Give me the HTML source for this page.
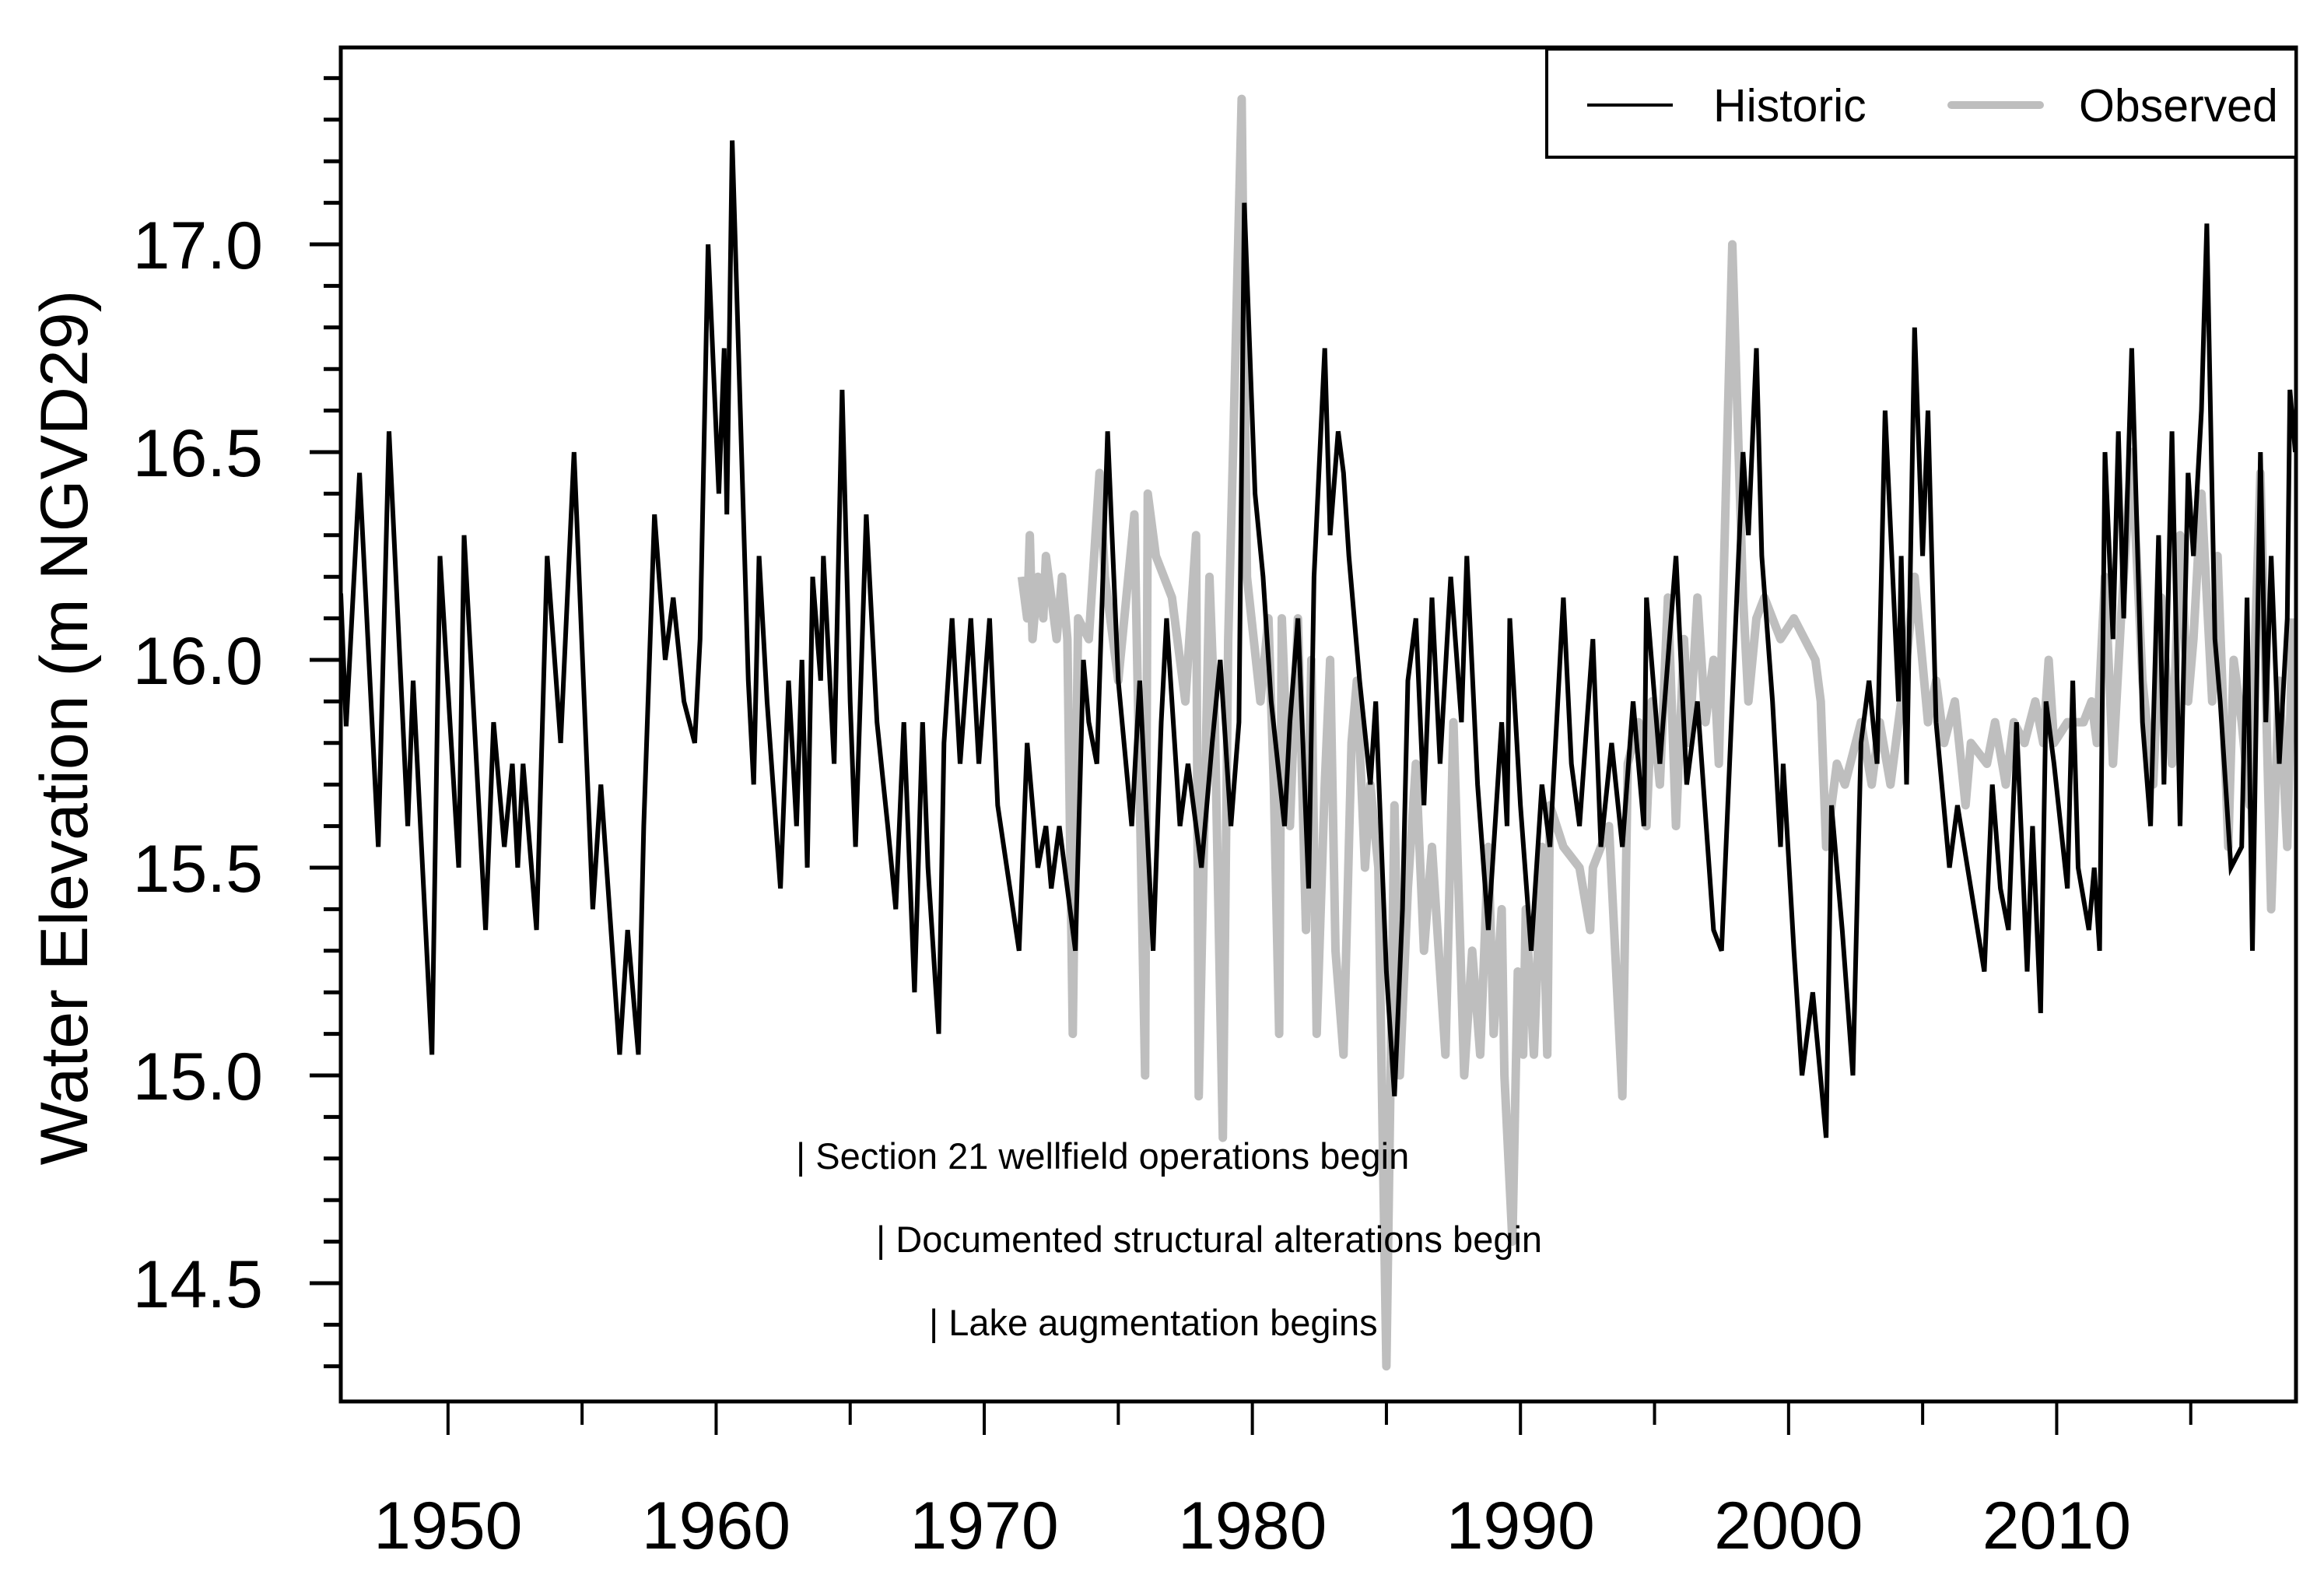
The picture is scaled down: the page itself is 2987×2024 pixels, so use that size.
<!DOCTYPE html>
<html><head><meta charset="utf-8"><style>
body{margin:0;background:#fff}
svg{display:block;font-family:"Liberation Sans",Arial,sans-serif}
</style></head><body>
<svg id="chart" width="2987" height="2024" viewBox="0 0 2987 2024" xmlns="http://www.w3.org/2000/svg">
<defs><clipPath id="plotclip"><rect x="438" y="61" width="2513" height="1740"/></clipPath></defs>
<g id="axes"></g>
<g id="series" clip-path="url(#plotclip)"></g>
<rect x="438" y="61" width="2513" height="1740" fill="none" stroke="#000" stroke-width="5"/>
<text transform="translate(112,935) rotate(-90)" text-anchor="middle" font-size="86">Water Elevation (m NGVD29)</text>
<g>
<rect x="1988" y="63" width="963" height="139" fill="#fff" stroke="#000" stroke-width="4"/>
<line x1="2040" y1="135" x2="2150" y2="135" stroke="#000" stroke-width="4"/>
<text x="2202" y="156" font-size="59">Historic</text>
<line x1="2508" y1="135" x2="2622" y2="135" stroke="#bebebe" stroke-width="10" stroke-linecap="round"/>
<text x="2672" y="156" font-size="59">Observed</text>
</g>
<g font-size="47">
<text x="1023" y="1502">| Section 21 wellfield operations begin</text>
<text x="1126" y="1609">| Documented structural alterations begin</text>
<text x="1194" y="1716">| Lake augmentation begins</text>
</g>
</svg>
<script>
const histYears=[1946.0,1946.2,1946.7,1947.4,1947.8,1948.5,1948.7,1949.4,1949.7,1950.4,1950.6,1951.4,1951.7,1952.1,1952.4,1952.6,1952.8,1953.3,1953.7,1954.2,1954.7,1955.4,1955.7,1956.4,1956.7,1957.1,1957.3,1957.7,1958.1,1958.4,1958.8,1959.2,1959.4,1959.7,1960.1,1960.3,1960.4,1960.6,1960.9,1961.2,1961.4,1961.6,1961.9,1962.4,1962.7,1963.0,1963.2,1963.4,1963.6,1963.9,1964.0,1964.4,1964.7,1965.0,1965.2,1965.6,1966.0,1966.4,1966.7,1967.0,1967.4,1967.7,1967.9,1968.3,1968.5,1968.8,1969.1,1969.5,1969.8,1970.2,1970.5,1971.3,1971.6,1972.0,1972.3,1972.5,1972.8,1973.4,1973.7,1973.9,1974.2,1974.6,1975.0,1975.5,1975.8,1976.3,1976.6,1976.8,1977.3,1977.6,1978.1,1978.5,1978.8,1979.2,1979.5,1979.7,1980.1,1980.4,1980.7,1981.2,1981.4,1981.7,1982.1,1982.3,1982.7,1982.9,1983.2,1983.4,1983.6,1984.0,1984.4,1984.6,1985.0,1985.3,1985.6,1985.8,1986.1,1986.4,1986.7,1987.0,1987.4,1987.8,1988.0,1988.4,1988.8,1989.0,1989.3,1989.5,1989.6,1990.0,1990.4,1990.8,1991.1,1991.6,1991.9,1992.2,1992.7,1993.0,1993.4,1993.8,1994.2,1994.6,1994.7,1995.2,1995.8,1996.2,1996.6,1997.2,1997.5,1997.8,1998.1,1998.3,1998.5,1998.8,1999.0,1999.4,1999.7,1999.8,2000.2,2000.5,2000.9,2001.4,2001.6,2002.0,2002.4,2002.7,2003.0,2003.3,2003.6,2004.1,2004.2,2004.4,2004.7,2005.0,2005.2,2005.5,2006.0,2006.3,2007.3,2007.6,2007.9,2008.2,2008.5,2008.9,2009.1,2009.4,2009.6,2009.9,2010.4,2010.6,2010.8,2011.2,2011.4,2011.6,2011.8,2012.1,2012.3,2012.5,2012.8,2013.2,2013.5,2013.8,2014.0,2014.3,2014.6,2014.9,2015.1,2015.4,2015.6,2015.9,2016.1,2016.5,2016.9,2017.1,2017.3,2017.6,2017.8,2018.0,2018.3,2018.6,2018.7,2018.9];
const histValues=[16.16,15.84,16.45,15.55,16.55,15.6,15.95,15.05,16.25,15.5,16.3,15.35,15.85,15.55,15.75,15.5,15.75,15.35,16.25,15.8,16.5,15.4,15.7,15.05,15.35,15.05,15.6,16.35,16.0,16.15,15.9,15.8,16.05,17.0,16.4,16.75,16.35,17.25,16.6,15.95,15.7,16.25,15.9,15.45,15.95,15.6,16.0,15.5,16.2,15.95,16.25,15.75,16.65,15.9,15.55,16.35,15.85,15.6,15.4,15.85,15.2,15.85,15.5,15.1,15.8,16.1,15.75,16.1,15.75,16.1,15.65,15.3,15.8,15.5,15.6,15.45,15.6,15.3,16.0,15.85,15.75,16.55,15.95,15.6,15.95,15.3,15.85,16.1,15.6,15.75,15.5,15.8,16.0,15.6,15.85,17.1,16.4,16.2,15.9,15.6,15.85,16.1,15.45,16.2,16.75,16.3,16.55,16.45,16.25,15.95,15.7,15.9,15.25,14.95,15.4,15.95,16.1,15.65,16.15,15.75,16.2,15.85,16.25,15.7,15.35,15.55,15.85,15.6,16.1,15.65,15.3,15.7,15.55,16.15,15.75,15.6,16.05,15.55,15.8,15.55,15.9,15.6,16.15,15.75,16.25,15.7,15.9,15.35,15.3,15.75,16.2,16.5,16.3,16.75,16.25,15.9,15.55,15.75,15.3,15.0,15.2,14.85,15.65,15.35,15.0,15.8,15.95,15.75,16.6,15.9,16.25,15.7,16.8,16.25,16.6,15.85,15.5,15.65,15.25,15.7,15.45,15.35,15.85,15.25,15.6,15.15,15.9,15.75,15.45,15.95,15.5,15.35,15.5,15.3,16.5,16.05,16.55,16.1,16.75,15.85,15.6,16.3,15.7,16.55,15.6,16.45,16.25,16.6,17.05,16.05,15.9,15.5,15.55,16.15,15.3,16.5,15.85,16.25,15.75,16.1,16.65,16.5];
const obsYears=[1971.4,1971.6,1971.7,1971.8,1972.0,1972.2,1972.3,1972.7,1972.9,1973.1,1973.3,1973.5,1973.9,1974.3,1974.5,1975.0,1975.6,1976.0,1976.1,1976.4,1977.0,1977.5,1977.9,1978.0,1978.4,1978.6,1978.9,1979.1,1979.3,1979.6,1979.8,1980.3,1980.6,1980.8,1981.0,1981.1,1981.4,1981.7,1982.0,1982.2,1982.4,1982.7,1982.9,1983.1,1983.4,1983.7,1983.9,1984.2,1984.4,1984.7,1985.0,1985.3,1985.5,1985.8,1986.1,1986.4,1986.7,1987.2,1987.5,1987.9,1988.2,1988.5,1988.8,1989.0,1989.3,1989.4,1989.7,1989.9,1990.1,1990.2,1990.5,1990.8,1991.0,1991.1,1991.6,1992.2,1992.6,1992.7,1993.3,1993.8,1994.0,1994.4,1994.7,1994.9,1995.2,1995.5,1995.8,1996.1,1996.3,1996.6,1996.9,1997.2,1997.4,1997.9,1998.3,1998.5,1998.8,1999.1,1999.7,2000.2,2001.0,2001.2,2001.4,2001.8,2002.1,2002.7,2003.1,2003.4,2003.8,2004.1,2004.4,2004.7,2005.2,2005.5,2005.8,2006.2,2006.6,2006.8,2007.4,2007.7,2008.1,2008.4,2008.8,2009.2,2009.5,2009.7,2009.9,2010.4,2011.0,2011.3,2011.5,2011.8,2012.1,2012.4,2012.8,2013.2,2013.6,2013.9,2014.3,2014.6,2014.9,2015.1,2015.4,2015.8,2016.0,2016.4,2016.6,2016.9,2017.2,2017.6,2018.0,2018.3,2018.6,2018.8];
const obsValues=[16.2,16.1,16.3,16.05,16.2,16.1,16.25,16.05,16.2,16.05,15.1,16.1,16.05,16.45,16.2,15.95,16.35,15.0,16.4,16.25,16.15,15.9,16.3,14.95,16.2,15.85,14.85,16.05,16.55,17.35,16.2,15.9,16.1,15.7,15.1,16.1,15.6,16.1,15.35,16.0,15.1,15.7,16.0,15.3,15.05,15.8,15.95,15.5,15.7,15.5,14.3,15.65,15.0,15.45,15.75,15.3,15.55,15.05,15.85,15.0,15.3,15.05,15.55,15.1,15.4,15.0,14.6,15.25,15.05,15.4,15.05,15.55,15.05,15.65,15.55,15.5,15.35,15.5,15.6,14.95,15.75,15.85,15.6,15.9,15.7,16.15,15.6,16.05,15.8,16.15,15.85,16.0,15.75,17.0,16.15,15.9,16.1,16.15,16.05,16.1,16.0,15.9,15.55,15.75,15.7,15.85,15.7,15.85,15.7,15.85,16.0,16.2,15.85,15.95,15.8,15.9,15.65,15.8,15.75,15.85,15.7,15.85,15.8,15.9,15.8,16.0,15.8,15.85,15.85,15.9,15.8,16.2,15.75,16.1,16.5,15.95,15.7,16.15,15.75,16.3,15.9,16.05,16.4,15.9,16.25,15.55,16.0,15.85,15.65,16.45,15.4,15.95,15.55,16.1];
const yTickValues=[14.5,15.0,15.5,16.0,16.5,17.0];
const yTickLabels=["14.5","15.0","15.5","16.0","16.5","17.0"];
const xTickYears=[1950,1960,1970,1980,1990,2000,2010];
const xTickLabels=["1950","1960","1970","1980","1990","2000","2010"];

const NS="http://www.w3.org/2000/svg";
function xs(yr){return 438+(yr-1946)*34.46;}
function ys(v){return 314+(17-v)*534;}
function mk(tag,attrs,parent){const e=document.createElementNS(NS,tag);for(const k in attrs)e.setAttribute(k,attrs[k]);parent.appendChild(e);return e;}
const axes=document.getElementById('axes');
const series=document.getElementById('series');
for(let i=143;i<=174;i++){const v=i/10;const major=(i%5===0);
 const t=mk('line',{x1:438,x2:major?398:416,y1:ys(v),y2:ys(v),stroke:'#000','stroke-width':5},axes);
 
 }
yTickValues.forEach((v,i)=>{const t=mk('text',{x:338,y:ys(v)+31,'text-anchor':'end','font-size':86},axes);t.textContent=yTickLabels[i];
 
 });
for(let yr=1950;yr<=2015;yr+=5){const major=(yr%10===0);
 const t=mk('line',{x1:xs(yr),x2:xs(yr),y1:1801,y2:major?1844:1831,stroke:'#000','stroke-width':4},axes);
 
 }
xTickYears.forEach((yr,i)=>{const t=mk('text',{x:xs(yr),y:1990,'text-anchor':'middle','font-size':86},axes);t.textContent=xTickLabels[i];
 
 });
function pts(xa,va){return xa.map((x,i)=>xs(x).toFixed(1)+','+ys(va[i]).toFixed(1)).join(' ');}
const ob=mk('polyline',{points:pts(obsYears,obsValues),fill:'none',stroke:'#bebebe','stroke-width':11,'stroke-linejoin':'round'},series);


const hi=mk('polyline',{points:pts(histYears,histValues),fill:'none',stroke:'#000','stroke-width':6,'stroke-linejoin':'miter'},series);


</script>
</body></html>
